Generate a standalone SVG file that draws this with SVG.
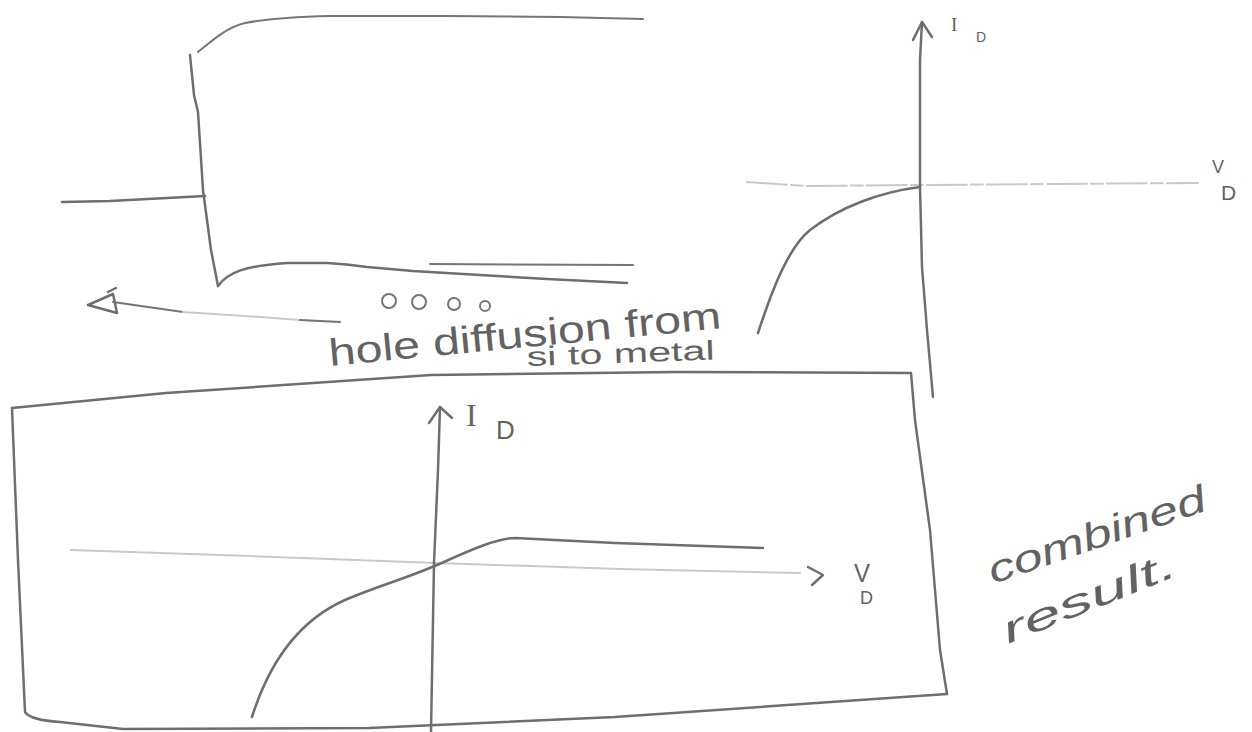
<svg xmlns="http://www.w3.org/2000/svg" width="1252" height="732" viewBox="0 0 1252 732">
<style>
.ink{fill:none;stroke:#6e6e6e;stroke-width:2.5;stroke-linecap:round;stroke-linejoin:round}
.thin{fill:none;stroke:#757575;stroke-width:2;stroke-linecap:round;stroke-linejoin:round}
.faint{fill:none;stroke:#c9c9c9;stroke-width:2;stroke-linecap:round}
.txt{fill:#626262;font-family:"Liberation Sans",Arial,sans-serif}
.serif{fill:#626262;font-family:"Liberation Serif","Times New Roman",serif}
</style>
<rect width="1252" height="732" fill="#ffffff"/>

<g id="band-diagram">
  <path class="thin" d="M198,52 C215,38 228,27 245,23 C265,19 290,17 330,16 L445,16 L560,17 L643,19"/>
  <path class="ink" d="M190,55 L194,95 L198,112 L203,190 L211,250 L218,286"/>
  <path class="ink" d="M62,202 L110,201 L205,196"/>
  <path class="ink" d="M218,286 C228,272 245,266 287,263 L327,263 C345,264 360,266 367,267 L413,271 L480,275 L547,279 L627,283"/>
  <path class="thin" d="M430,264 L633,265"/>
</g>

<g id="connectors">
  <g id="hole-arrow">
    <path class="ink" d="M88,305 L113,294 M88,305 L117,313 M113,294 L117,313 M108,292 L116,288"/>
    <path class="thin" d="M113,302 L183,312"/>
    <path class="faint" d="M183,312 L260,317 L300,320"/>
    <path class="thin" stroke="#8a8a8a" d="M300,320 L340,322"/>
  </g>
</g>

<g id="hole-label">
  <circle class="thin" cx="389" cy="301" r="7"/>
  <circle class="thin" cx="419" cy="302" r="7"/>
  <circle class="thin" cx="454" cy="304" r="6"/>
  <circle class="thin" cx="485" cy="306" r="5"/>
  <text class="txt" x="330" y="366" font-size="38" textLength="394" lengthAdjust="spacingAndGlyphs" transform="rotate(-5.5 330 366)">hole diffusion from</text>
  <text class="txt" x="527" y="366" font-size="27" textLength="188" lengthAdjust="spacingAndGlyphs" transform="rotate(-2 527 366)">si to metal</text>
</g>

<g id="top-iv-plot">
  <path class="faint" stroke-dasharray="40 4 12 4" d="M747,182 L807,186 L920,185 L1050,184 L1198,183"/>
  <path class="ink" d="M922,22 L920,60 L920,187 L922,267 L927,330 L933,397"/>
  <path class="ink" d="M913,40 L922,22 L932,37"/>
  <path class="ink" d="M758,333 C772,290 788,248 810,230 C840,207 880,192 920,187"/>
  <text class="serif" x="951" y="31" font-size="19">I</text>
  <text class="txt" x="976" y="42" font-size="14">D</text>
  <text class="txt" x="1212" y="173" font-size="18">V</text>
  <text class="txt" x="1221" y="200" font-size="21">D</text>
</g>

<g id="combined-plot">
  <path class="ink" d="M12,408 L166,393 L431,375 L677,372 L911,373 L915,420 L930,530 L940,650 L947,694"/>
  <path class="ink" d="M12,408 L18,560 L25,712 Q30,720 60,722 L123,729 L369,728 L615,717 L947,694"/>
  <path class="faint" d="M71,550 L250,556 L437,563 L620,569 L800,573"/>
  <path class="ink" d="M808,567 L823,575 L812,585"/>
  <path class="ink" d="M440,407 L438,470 L434,563 L431,732"/>
  <path class="ink" d="M429,423 L440,407 L452,418"/>
  <path class="ink" d="M252,717 C270,660 300,620 345,600 C375,587 410,577 437,565 C460,555 495,538 515,538 L615,543 L763,548"/>
  <text class="serif" x="466" y="426" font-size="32">I</text>
  <text class="txt" x="496" y="439" font-size="26">D</text>
  <text class="txt" x="854" y="582" font-size="26" textLength="16" lengthAdjust="spacingAndGlyphs">V</text>
  <text class="txt" x="860" y="604" font-size="18">D</text>
</g>

<g id="combined-label">
  <text class="txt" font-style="italic" x="993" y="584" font-size="38" textLength="228" lengthAdjust="spacingAndGlyphs" transform="rotate(-19 993 584)">combined</text>
  <text class="txt" font-style="italic" x="1008" y="644" font-size="38" textLength="185" lengthAdjust="spacingAndGlyphs" transform="rotate(-22 1008 644)">result.</text>
</g>
</svg>
